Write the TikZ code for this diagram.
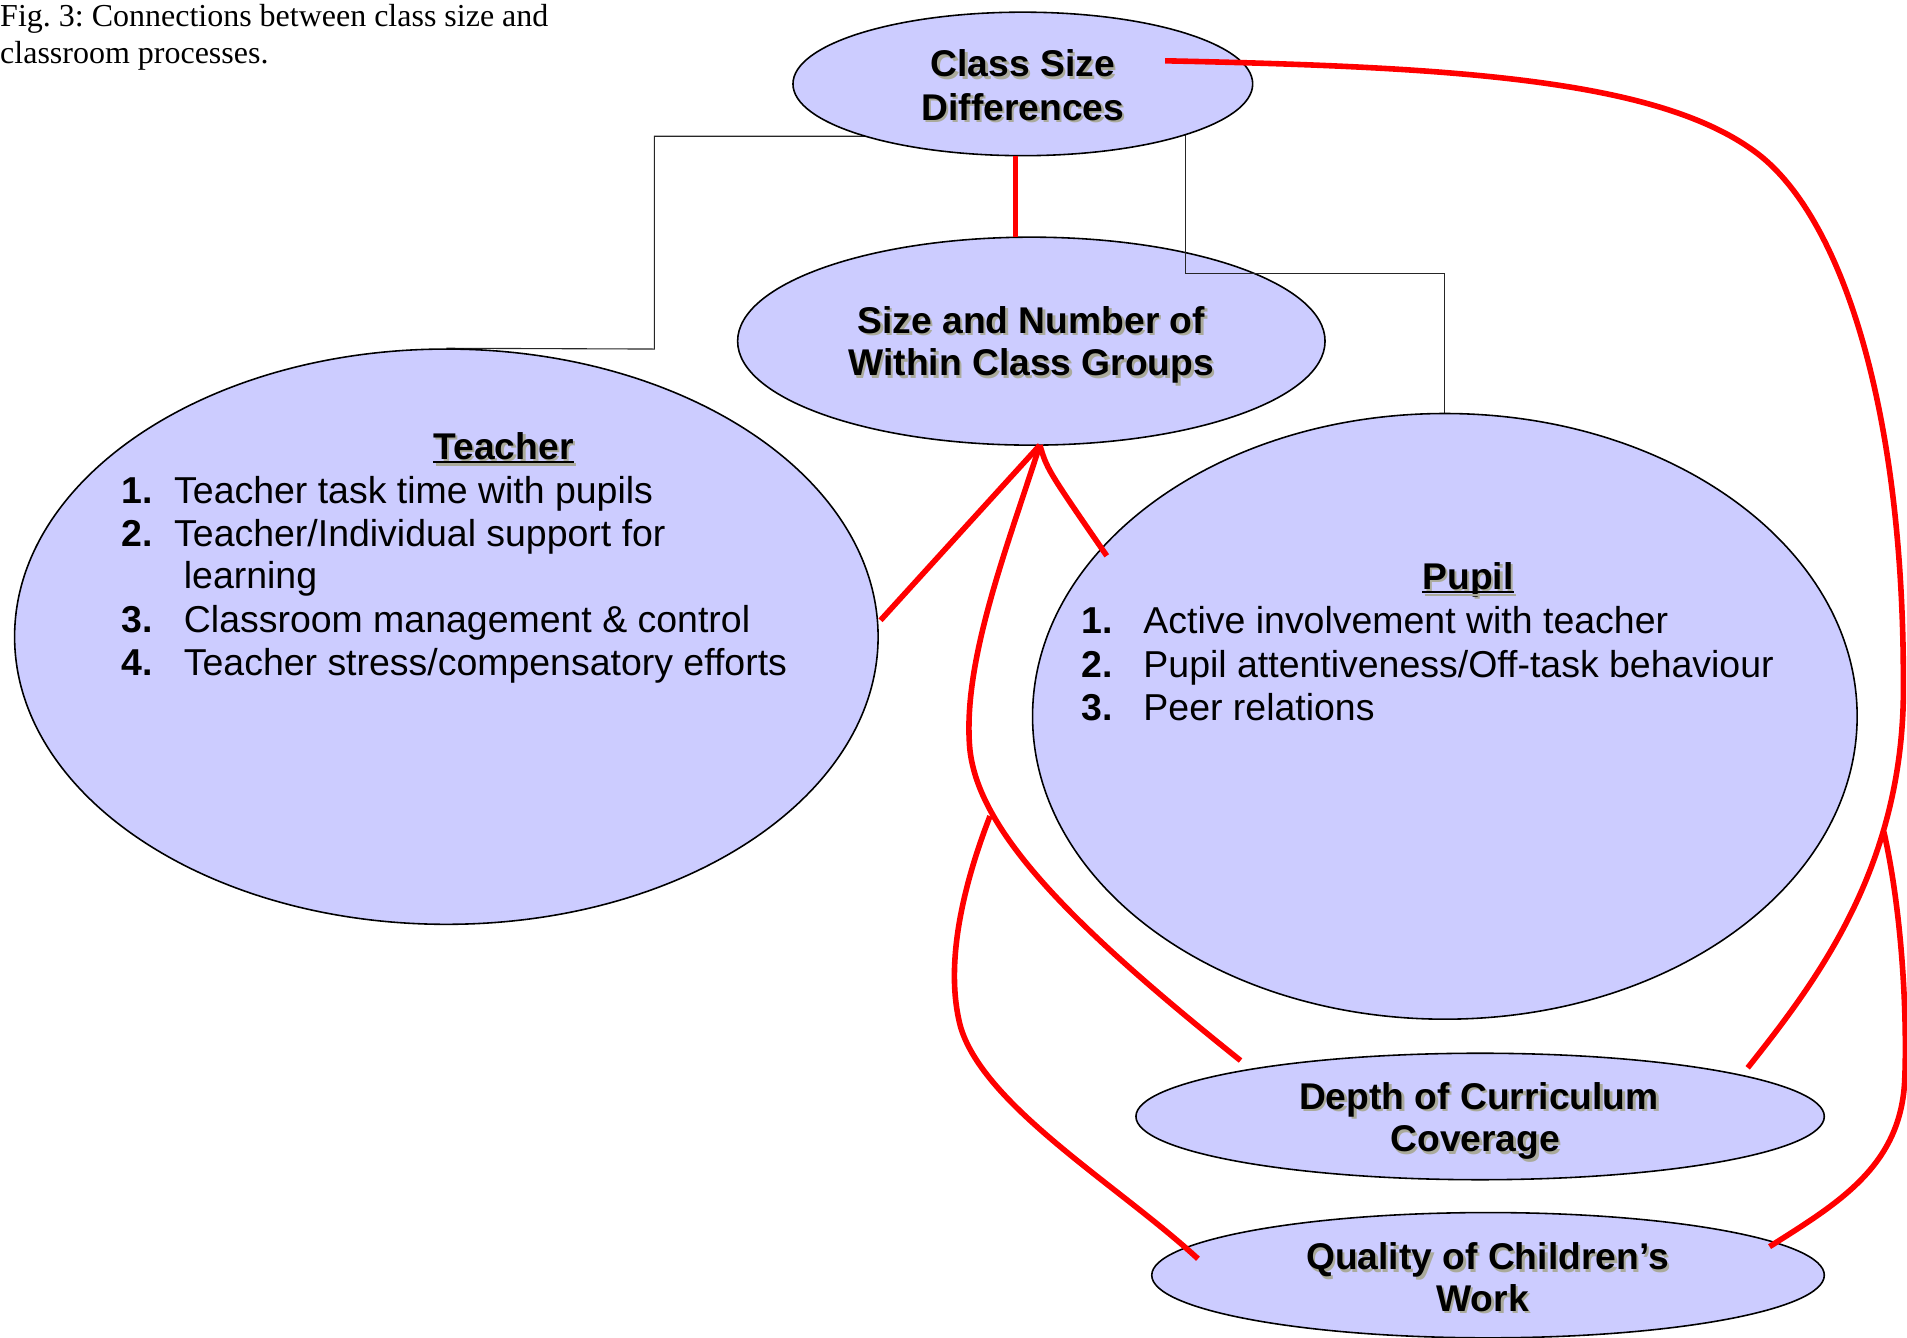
\documentclass[tikz,border=0pt]{standalone}
\usepackage{fontspec}
\setmainfont{Liberation Serif}
\newfontfamily\arialfam{Liberation Sans}
\usetikzlibrary{shapes.geometric,calc}
\definecolor{lav}{RGB}{204,204,255}
\definecolor{redl}{RGB}{255,0,0}
\definecolor{shade}{RGB}{170,170,155}
\pgfdeclarelayer{front}
\pgfdeclarelayer{top}
\pgfsetlayers{main,front,top}
\frenchspacing
\begin{document}
\begin{tikzpicture}[x=1pt,y=-1pt,
  bubble/.style={ellipse, draw=black, line width=1.3pt, fill=lav, inner sep=0pt},
  ttl/.style={font=\arialfam\bfseries\fontsize{30.6}{35}\selectfont, inner sep=0pt, anchor=base},
  ttlsh/.style={ttl, text=shade},
  item/.style={font=\arialfam\fontsize{30.8}{35}\selectfont, inner sep=0pt, anchor=base west},
  num/.style={font=\arialfam\bfseries\fontsize{30.8}{35}\selectfont, inner sep=0pt, anchor=base west},
  captxt/.style={font=\fontsize{26.3}{31}\selectfont, inner sep=0pt, anchor=base west},
  elbow/.style={draw=black!85, line width=0.9pt},
  redline/.style={draw=redl, line width=4.6pt}]
\useasboundingbox (0,0) rectangle (1568,1100);

% caption
\node[captxt] (cap1) at (0,22) {Fig. 3: Connections between class size and};
\node[captxt] (cap2) at (0,52) {classroom processes.};

% middle ellipse (below the connectors)
\node[bubble, minimum width=483pt, minimum height=171pt] (sng) at (848,280.5) {};

\begin{pgfonlayer}{front}
\node[bubble, minimum width=378pt, minimum height=118pt] (csd) at (841,69) {};
\node[bubble, minimum width=710pt, minimum height=473pt] (teacher) at (367,523.5) {};
\node[bubble, minimum width=678pt, minimum height=498pt] (pupil) at (1188,589) {};
\node[bubble, minimum width=566pt, minimum height=104pt] (depth) at (1217,918) {};
\node[bubble, minimum width=553pt, minimum height=103pt] (quality) at (1223.5,1048.5) {};

% titles with shadow
\node[ttlsh] (csd1s) at (843,65) {Class Size};
\node[ttl] (csd1) at (841,63) {Class Size};
\node[ttlsh] (csd2s) at (843,101) {Differences};
\node[ttl] (csd2) at (841,99) {Differences};
\node[ttlsh] (sng1s) at (850,276) {Size and Number of};
\node[ttl] (sng1) at (848,274) {Size and Number of};
\node[ttlsh] (sng2s) at (850,311) {Within Class Groups};
\node[ttl] (sng2) at (848,309) {Within Class Groups};
\node[ttlsh] (dep1s) at (1218,914) {Depth of Curriculum};
\node[ttl] (dep1) at (1216,912) {Depth of Curriculum};
\node[ttlsh] (dep2s) at (1215,949) {Coverage};
\node[ttl] (dep2) at (1213,947) {Coverage};
\node[ttlsh] (qua1s) at (1225,1046) {Quality of Children’s};
\node[ttl] (qua1) at (1223,1044) {Quality of Children’s};
\node[ttlsh] (qua2s) at (1221,1080) {Work};
\node[ttl] (qua2) at (1219,1078) {Work};

% teacher text
\node[ttlsh] (tts) at (416,379.5) {Teacher};
\node[ttl] (tt) at (414,377.5) {Teacher};
\draw[draw=shade, line width=1.8pt] ([xshift=2,yshift=-4.5]tt.base west) -- ([xshift=2,yshift=-4.5]tt.base east);
\draw[line width=1.8pt] ([yshift=-2.5]tt.base west) -- ([yshift=-2.5]tt.base east);
\node[num] (tn1) at (100,414) {1.};
\node[item] (ti1) at (143,414) {Teacher task time with pupils};
\node[num] (tn2) at (100,449) {2.};
\node[item] (ti2) at (143,449) {Teacher/Individual support for};
\node[item] (ti2b) at (151,484) {learning};
\node[num] (tn3) at (100,520) {3.};
\node[item] (ti3) at (151,520) {Classroom management \& control};
\node[num] (tn4) at (100,555) {4.};
\node[item] (ti4) at (151,555) {Teacher stress/compensatory efforts};

% pupil text
\node[ttlsh] (pts) at (1209,486.5) {Pupil};
\node[ttl] (pt) at (1207,484.5) {Pupil};
\draw[draw=shade, line width=1.8pt] ([xshift=2,yshift=-4.5]pt.base west) -- ([xshift=2,yshift=-4.5]pt.base east);
\draw[line width=1.8pt] ([yshift=-2.5]pt.base west) -- ([yshift=-2.5]pt.base east);
\node[num] (pn1) at (889,521) {1.};
\node[item] (pi1) at (940,521) {Active involvement with teacher};
\node[num] (pn2) at (889,557) {2.};
\node[item] (pi2) at (940,557) {Pupil attentiveness/Off-task behaviour};
\node[num] (pn3) at (889,592) {3.};
\node[item] (pi3) at (940,592) {Peer relations};
\end{pgfonlayer}

% thin elbow connectors
\draw[elbow] ($(csd.center)+(0,43)$) -| (538,287) -- (teacher.north);
\draw[elbow] ($(csd.center)+(134,0)$) |- (1188,225) -- (pupil.north);

% red connectors
\begin{pgfonlayer}{top}
\coordinate (r1a) at (835,128);
\coordinate (r1b) at (835,195);
\coordinate (J) at (855,366);
\coordinate (cs1) at (958,50);
\coordinate (dp1) at (1437,878);
\coordinate (dp2) at (1020,872);
\coordinate (b1) at (814,671);
\coordinate (b2) at (1549,684);
\coordinate (q1) at (985,1035);
\coordinate (q2) at (1455,1025);
\coordinate (t1) at (724,510);
\coordinate (p1) at (910,457);

\draw[redline] (r1a) -- (r1b);
\draw[redline] (cs1) .. controls (1200,55) and (1362,66) .. (1442,124)
  .. controls (1512,174) and (1565,330) .. (1565,560)
  .. controls (1567,710) and (1495,805) .. (dp1);
\draw[redline] (J) -- (t1);
\draw[redline] (J) .. controls (861,386) .. (p1);
\draw[redline] (J) .. controls (828,450) and (793,540) .. (797,610)
  .. controls (800,680) and (880,760) .. (dp2);
\draw[redline] (b1) .. controls (795,720) and (775,790) .. (790,845)
  .. controls (810,910) and (920,975) .. (q1);
\draw[redline] (b2) .. controls (1566,760) and (1568,850) .. (1566,890)
  .. controls (1562,960) and (1510,990) .. (q2);
\end{pgfonlayer}
\end{tikzpicture}
\end{document}
